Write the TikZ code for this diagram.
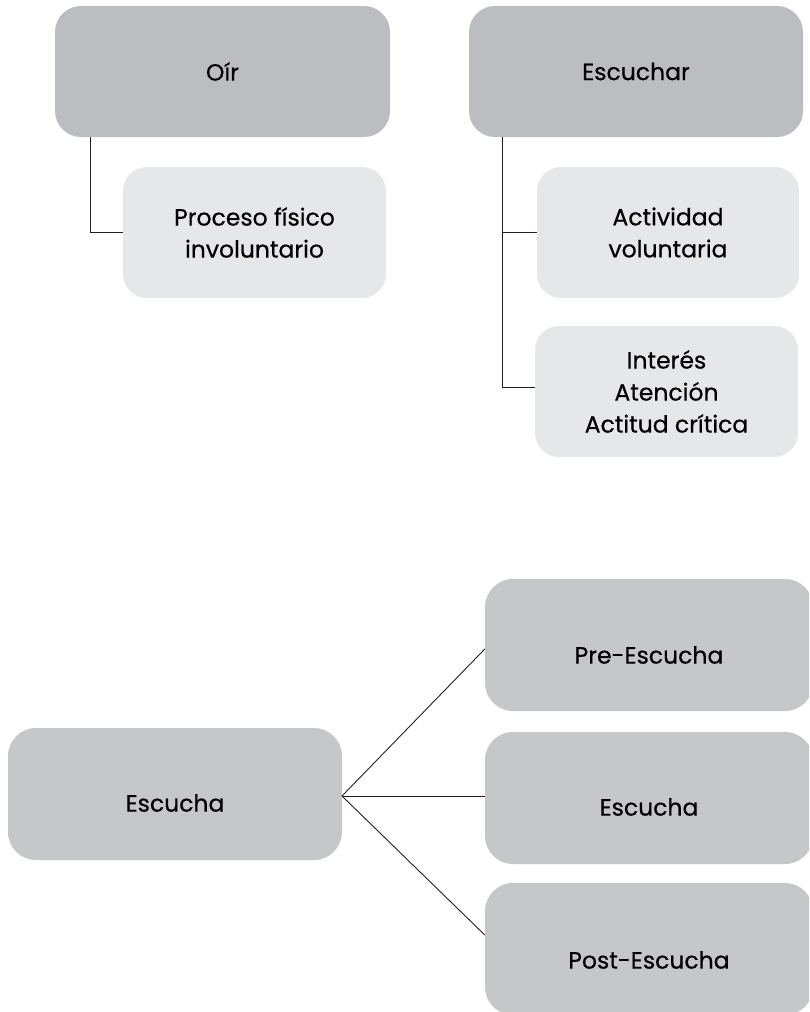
\documentclass[tikz,border=0pt]{standalone}
\usepackage{fontspec}
\setmainfont{Poppins}[FakeBold=0.5]
\definecolor{boxdark}{RGB}{188,189,192}
\definecolor{boxlow}{RGB}{198,199,201}
\definecolor{boxlight}{RGB}{230,231,232}
\definecolor{linkline}{RGB}{35,31,32}
\begin{document}
\begin{tikzpicture}[x=1pt,y=-1pt,
  font=\fontsize{23.5}{32}\selectfont,
  card/.style={rectangle, rounded corners=26pt, inner sep=0pt, text=black, align=center},
  headcard/.style={card, fill=boxdark},
  subcard/.style={card, fill=boxlight, rounded corners=24pt},
  lowcard/.style={card, fill=boxlow, rounded corners=28pt},
  link/.style={draw=linkline, line width=0.9pt}]
\useasboundingbox (0,0) rectangle (809,1012);
\clip (0,0) rectangle (809,1012);

% upper left: Oír
\node[headcard, minimum width=335pt, minimum height=131pt] (oir) at (222.5,71.5) {Oír};
\node[subcard, minimum width=263pt, minimum height=131pt] (proc) at (254.5,232.5) {Proceso físico\\involuntario};

% upper right: Escuchar
\node[headcard, minimum width=334pt, minimum height=131pt] (escuchar) at (636,71.5) {Escuchar};
\node[subcard, minimum width=262pt, minimum height=131pt] (activ) at (668,232.5) {Actividad\\voluntaria};
\node[subcard, minimum width=263pt, minimum height=131pt] (inter) at (666.5,391.5) {Interés\\Atención\\Actitud crítica};

\coordinate (oirdrop) at (90,137);
\coordinate (escdrop) at (502,137);
\draw[link] (oirdrop) |- (proc.west);
\draw[link] (escdrop) |- (inter.west |- 0,387);
\draw[link] (escdrop |- activ.west) -- (activ.west);

% lower part: Escucha and its three stages
\node[lowcard, minimum width=334pt, minimum height=132pt] (escucha) at (175,794) {};
\node at ([yshift=-9pt]escucha.center) {Escucha};
\node[lowcard, minimum width=328pt, minimum height=132pt] (pre) at (649,645) {};
\node at ([yshift=-10pt]pre.center) {Pre-Escucha};
\node[lowcard, minimum width=328pt, minimum height=132pt] (mid) at (649,798) {};
\node at ([yshift=-9pt]mid.center) {Escucha};
\node[lowcard, minimum width=328pt, minimum height=132pt] (post) at (649,949) {};
\node at ([yshift=-11pt]post.center) {Post-Escucha};

\coordinate (fork) at (342,796);
\draw[link] (fork) -- (pre.west |- 0,649);
\draw[link] (fork) -- (mid.west |- 0,796);
\draw[link] (fork) -- (post.west |- 0,935);
\end{tikzpicture}
\end{document}
